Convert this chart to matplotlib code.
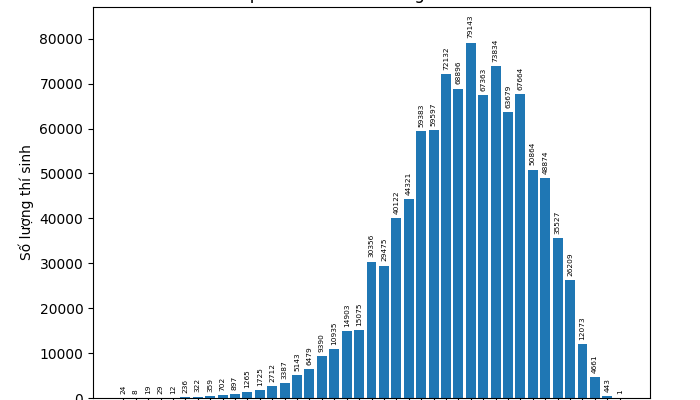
import numpy as np
import matplotlib
matplotlib.use("Agg")
import matplotlib.pyplot as plt

# so luong thi sinh theo tung muc diem (0 -> 10, buoc 0.25)
diem = [f"{d:.2f}" for d in np.arange(0, 10.01, 0.25)]
so_luong = [24, 8, 19, 29, 12, 236, 322, 359, 702, 897, 1265, 1725, 2712,
            3387, 5143, 6479, 9390, 10935, 14903, 15075, 30356, 29475,
            40122, 44321, 59383, 59597, 72132, 68896, 79143, 67363, 73834,
            63679, 67664, 50864, 48874, 35527, 26209, 12073, 4661, 443, 1]

fig = plt.figure(figsize=(7, 4), dpi=100)
ax = fig.add_axes([93 / 700, 2 / 400, 557 / 700, 391 / 400])

bars = ax.bar(diem, so_luong, color='#1f77b4')
ax.bar_label(bars, labels=[str(v) for v in so_luong], rotation=90,
             fontsize=5.3, padding=3)

ax.set_ylim(0, max(so_luong) * 1.1)
ax.set_ylabel('Số lượng thí sinh', fontsize=10)
ax.set_title('Biểu đồ phổ điểm thi môn Ngữ văn năm 2023')
# phan duoi (nhan truc x) bi cat trong anh goc
ax.tick_params(axis='x', labelbottom=False)

plt.savefig('out.png', dpi=100)
